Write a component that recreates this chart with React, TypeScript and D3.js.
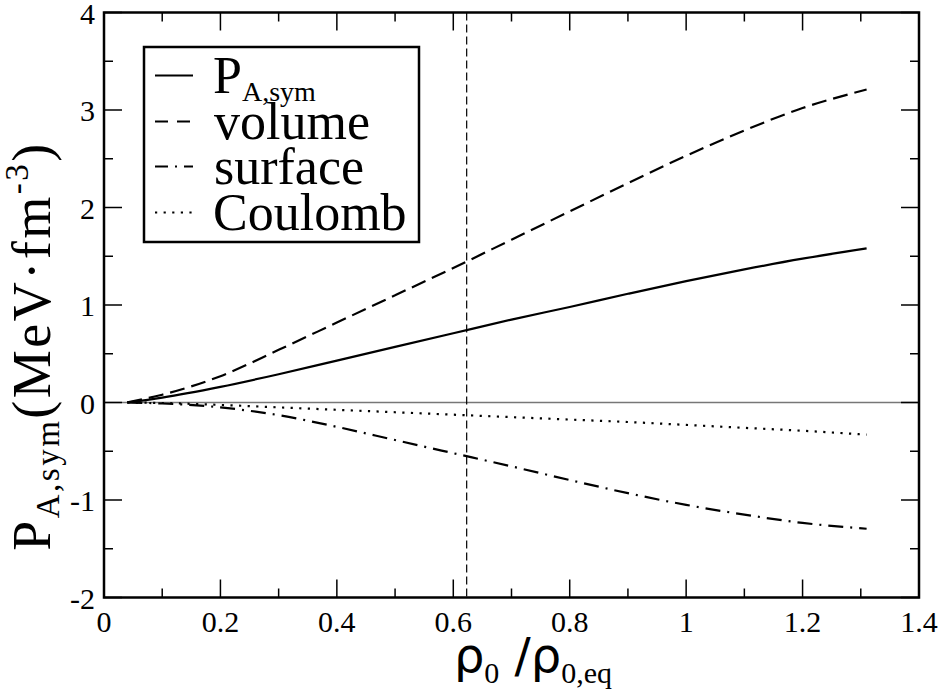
import * as d3 from 'd3';

// density ratio rho0 / rho0,eq
const RHO = [0.04, 0.1, 0.2, 0.3, 0.4, 0.5, 0.6, 0.7, 0.8, 0.9, 1.0, 1.1, 1.2, 1.31];
// pressure contributions (MeV fm^-3)
const P_SYM = [0, 0.05, 0.16, 0.29, 0.43, 0.57, 0.71, 0.85, 0.98, 1.115, 1.245, 1.365, 1.475, 1.58];
const VOLUME = [0, 0.08, 0.27, 0.54, 0.82, 1.1, 1.38, 1.67, 1.96, 2.25, 2.53, 2.79, 3.02, 3.21];
const SURFACE = [0, -0.01, -0.05, -0.13, -0.25, -0.385, -0.52, -0.655, -0.795, -0.93, -1.05, -1.15, -1.235, -1.295];
const COULOMB = [0, -0.005, -0.025, -0.05, -0.075, -0.1, -0.125, -0.15, -0.175, -0.2, -0.23, -0.26, -0.29, -0.33];

const RHO_EQ_MARK = 0.623;

const X_TICKS = [0, 0.2, 0.4, 0.6, 0.8, 1, 1.2, 1.4];
const X_MINOR = [0.1, 0.3, 0.5, 0.7, 0.9, 1.1, 1.3];
const Y_TICKS = [-2, -1, 0, 1, 2, 3, 4];
const Y_MINOR = [-1.5, -0.5, 0.5, 1.5, 2.5, 3.5];

const SERIES = [
  { name: 'psym', values: P_SYM, dash: '', legendDash: '' },
  { name: 'volume', values: VOLUME, dash: '15,7', legendDash: '13,9' },
  { name: 'surface', values: SURFACE, dash: '15,7,2,7', legendDash: '13,7,2,7' },
  { name: 'Coulomb', values: COULOMB, dash: '2.2,6.4', legendDash: '2.2,6.4' },
];

const W = 944;
const H = 696;
const m = { left: 104, right: 919, top: 12.5, bottom: 597.5 };
const SERIF = "'Liberation Serif', 'Tinos', 'DejaVu Serif', 'Noto Serif', 'Times New Roman', Times, serif";
const SANS = "'DejaVu Sans', sans-serif";

export default function App() {
  const x = d3.scaleLinear().domain([0, 1.4]).range([m.left, m.right]);
  const y = d3.scaleLinear().domain([-2, 4]).range([m.bottom, m.top]);

  const line = d3.line<[number, number]>()
    .x(d => x(d[0]))
    .y(d => y(d[1]))
    .curve(d3.curveMonotoneX);

  const major = 18;
  const minor = 9;

  // legend baselines
  const legendRows = [93, 139, 184, 230];

  return (
    <svg width={W} height={H} style={{ position: 'absolute', left: 0, top: 0, background: '#fff' }}>
      <rect x={0} y={0} width={W} height={H} fill="#fff" />

      {/* zero line */}
      <line x1={m.left} x2={m.right} y1={y(0)} y2={y(0)} stroke="#777" strokeWidth={1.3} />

      {/* rho eq marker */}
      <line x1={x(RHO_EQ_MARK)} x2={x(RHO_EQ_MARK)} y1={m.top} y2={m.bottom}
        stroke="#000" strokeWidth={1.2} strokeDasharray="8,4" />

      {SERIES.map(s => (
        <path key={s.name}
          d={line(RHO.map((r, i) => [r, s.values[i]] as [number, number])) || ''}
          fill="none" stroke="#000" strokeWidth={2.2}
          strokeDasharray={s.dash || undefined} />
      ))}

      {/* ticks on all four sides, pointing inward */}
      <g stroke="#000" strokeWidth={1.5}>
        {X_TICKS.map(t => (
          <g key={'xt' + t}>
            <line x1={x(t)} x2={x(t)} y1={m.bottom} y2={m.bottom - major} />
            <line x1={x(t)} x2={x(t)} y1={m.top} y2={m.top + major} />
          </g>
        ))}
        {X_MINOR.map(t => (
          <g key={'xm' + t}>
            <line x1={x(t)} x2={x(t)} y1={m.bottom} y2={m.bottom - minor} />
            <line x1={x(t)} x2={x(t)} y1={m.top} y2={m.top + minor} />
          </g>
        ))}
        {Y_TICKS.map(t => (
          <g key={'yt' + t}>
            <line x1={m.left} x2={m.left + major} y1={y(t)} y2={y(t)} />
            <line x1={m.right} x2={m.right - major} y1={y(t)} y2={y(t)} />
          </g>
        ))}
        {Y_MINOR.map(t => (
          <g key={'ym' + t}>
            <line x1={m.left} x2={m.left + minor} y1={y(t)} y2={y(t)} />
            <line x1={m.right} x2={m.right - minor} y1={y(t)} y2={y(t)} />
          </g>
        ))}
      </g>

      {/* frame */}
      <rect x={m.left} y={m.top} width={m.right - m.left} height={m.bottom - m.top}
        fill="none" stroke="#000" strokeWidth={2.5} />

      {/* tick labels */}
      <g style={{ fontFamily: SERIF, fontSize: 30 }} fill="#000">
        {X_TICKS.map(t => (
          <text key={'xl' + t} x={x(t)} y={632} textAnchor="middle">{d3.format('~g')(t)}</text>
        ))}
        {Y_TICKS.map(t => (
          <text key={'yl' + t} x={95} y={y(t) + 11} textAnchor="end">{t}</text>
        ))}
      </g>

      {/* x axis title */}
      <text x={533} y={672} textAnchor="middle" style={{ fontFamily: SANS, fontSize: 48 }} fill="#000">
        ρ<tspan style={{ fontFamily: SERIF, fontSize: 30 }} dy={11}>0</tspan>
        <tspan dy={-11}> /ρ</tspan>
        <tspan style={{ fontFamily: SERIF, fontSize: 30 }} dy={11}>0,eq</tspan>
      </text>

      {/* y axis title */}
      <text transform={`translate(50,346) rotate(-90)`} textAnchor="middle"
        style={{ fontFamily: SERIF, fontSize: 54, letterSpacing: 2.5 }} fill="#000">
        P<tspan style={{ fontSize: 33 }} dy={9}>A,sym</tspan>
        <tspan dy={-9}>(MeV·fm</tspan>
        <tspan style={{ fontSize: 33 }} dy={-22}>-3</tspan>
        <tspan dy={22}>)</tspan>
      </text>

      {/* legend */}
      <rect x={144} y={47} width={275} height={195} fill="#fff" stroke="#000" strokeWidth={2.5} />
      {SERIES.map((s, i) => (
        <line key={'lg' + s.name} x1={155} x2={193} y1={legendRows[i] - 17.5} y2={legendRows[i] - 17.5}
          stroke="#000" strokeWidth={2.2}
          strokeDasharray={s.legendDash || undefined} />
      ))}
      <g style={{ fontFamily: SERIF, fontSize: 52 }} fill="#000">
        <text x={213} y={legendRows[0]}>P<tspan style={{ fontSize: 28 }} dy={8}>A,sym</tspan></text>
        <text x={214} y={legendRows[1]}>volume</text>
        <text x={214} y={legendRows[2]}>surface</text>
        <text x={213} y={legendRows[3]}>Coulomb</text>
      </g>
    </svg>
  );
}
